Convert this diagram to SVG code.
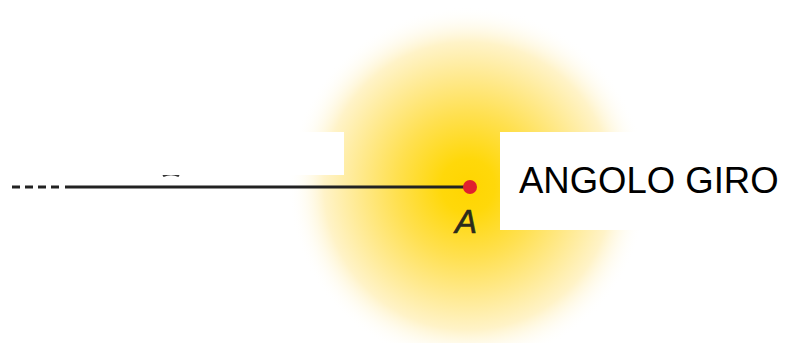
<svg xmlns="http://www.w3.org/2000/svg" width="790" height="343" viewBox="0 0 790 343">
<defs>
<radialGradient id="glow" cx="468" cy="186" r="180" gradientUnits="userSpaceOnUse">
<stop offset="0" stop-color="#FFD500"/>
<stop offset="0.15" stop-color="#FFD80A"/>
<stop offset="0.4" stop-color="#FFE050"/>
<stop offset="0.6" stop-color="#FFE98C"/>
<stop offset="0.8" stop-color="#FFF3C8"/>
<stop offset="1" stop-color="#FFFFFF" stop-opacity="0"/>
</radialGradient>
<style>
.lbl{font-family:"Liberation Sans",Arial,sans-serif;}
.ray{stroke:#222;stroke-width:3;fill:none;}
.mask{fill:#fff;}
</style>
</defs>
<rect width="790" height="343" fill="#fff"/>
<g id="glow-disc">
<circle cx="468" cy="186" r="180" fill="url(#glow)"/>
</g>
<g id="connectors">
<line class="ray" x1="12" y1="187" x2="63" y2="187" stroke-dasharray="8 5"/>
<line class="ray" x1="65" y1="187" x2="469" y2="187"/>
<path d="M163 176 Q171 172 179 176" stroke="#333" stroke-width="2.5" fill="none"/>
</g>
<g id="mask-left">
<rect class="mask" x="70" y="132" width="274" height="43"/>
</g>
<g id="point-A">
<circle cx="470" cy="187" r="7" fill="#E0202E"/>
<text class="lbl" x="455" y="233" font-size="33" font-style="italic" fill="#2b2b1c" stroke="#2b2b1c" stroke-width="0.6">A</text>
</g>
<g id="label">
<rect class="mask" x="500" y="132" width="290" height="98"/>
<text class="lbl" x="519" y="193" font-size="36.5" fill="#000">ANGOLO GIRO</text>
</g>
</svg>
